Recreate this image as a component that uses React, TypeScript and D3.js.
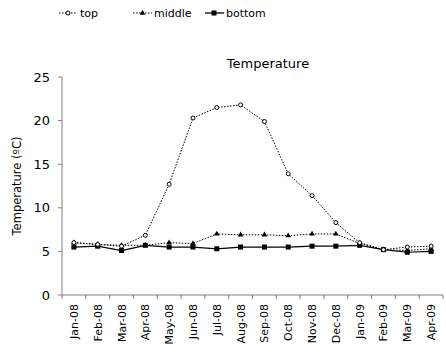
import React from "react";
import * as d3 from "d3";

const months = ["Jan-08","Feb-08","Mar-08","Apr-08","May-08","Jun-08","Jul-08","Aug-08","Sep-08","Oct-08","Nov-08","Dec-08","Jan-09","Feb-09","Mar-09","Apr-09"];
const topVals = [6.0,5.8,5.6,6.85,12.7,20.3,21.5,21.8,19.9,13.9,11.4,8.3,6.0,5.2,5.5,5.6];
const middleVals = [6.0,5.8,5.7,5.7,6.0,5.9,7.0,6.9,6.9,6.8,7.0,7.0,5.9,5.2,5.1,5.3];
const bottomVals = [5.5,5.6,5.1,5.7,5.5,5.5,5.3,5.5,5.5,5.5,5.6,5.6,5.7,5.2,4.9,5.0];
const yTicks = [0,5,10,15,20,25];

const FONT = "DejaVu Sans, Verdana, sans-serif";

export default function App() {
  const W = 446, H = 360;
  const x0 = 62, x1 = 443, yTop = 77, yBot = 295;
  const x = d3.scaleBand().domain(months).range([x0, x1]);
  const y = d3.scaleLinear().domain([0, 25]).range([yBot, yTop]);
  const cx = (m: string) => (x(m) as number) + x.bandwidth() / 2;
  const line = d3.line<number>().x((_, i) => cx(months[i])).y(d => y(d));
  const axisColor = "#808080";

  const boundaries = d3.range(months.length + 1).map(i => x0 + i * x.bandwidth());

  return (
    <svg width={W} height={H} style={{ position: "absolute", left: 0, top: 0 }} fontFamily={FONT}>
      <rect width={W} height={H} fill="#fff" />
      {/* legend */}
      <g fontSize={11} fill="#000">
        <line x1={59} x2={77} y1={13} y2={13} stroke="#000" strokeDasharray="1.5,1.5" />
        <circle cx={68} cy={13} r={2} fill="#fff" stroke="#000" strokeWidth={1} />
        <text x={80} y={17}>top</text>
        <line x1={133} x2={152} y1={13} y2={13} stroke="#000" strokeDasharray="1.5,1.5" />
        <path d={d3.symbol(d3.symbolTriangle, 14)() as string} transform="translate(142.5,13)" fill="#000" />
        <text x={154} y={17}>middle</text>
        <line x1={205} x2={224} y1={13} y2={13} stroke="#000" strokeWidth={1.3} />
        <rect x={211.5} y={10.5} width={5} height={5} fill="#000" />
        <text x={226} y={17}>bottom</text>
      </g>
      {/* title */}
      <text x={268} y={68} textAnchor="middle" fontSize={13}>Temperature</text>
      {/* y axis label */}
      <text transform="translate(21,186) rotate(-90)" textAnchor="middle" fontSize={11.5}>Temperature (ºC)</text>
      {/* axes */}
      <line x1={x0} x2={x0} y1={yTop} y2={yBot} stroke={axisColor} />
      <line x1={x0} x2={x1} y1={yBot} y2={yBot} stroke={axisColor} />
      {yTicks.map(t => (
        <g key={t}>
          <line x1={x0 - 4} x2={x0} y1={y(t)} y2={y(t)} stroke={axisColor} />
          <text x={50} y={y(t) + 4.5} textAnchor="end" fontSize={13}>{t}</text>
        </g>
      ))}
      {boundaries.map((b, i) => (
        <line key={i} x1={b} x2={b} y1={yBot} y2={yBot + 4} stroke={axisColor} />
      ))}
      {months.map(m => (
        <text key={m} transform={`translate(${cx(m) + 4},${yBot + 9}) rotate(-90)`} textAnchor="end" fontSize={11}>{m}</text>
      ))}
      {/* series */}
      <path d={line(bottomVals) as string} fill="none" stroke="#000" strokeWidth={1.2} />
      {bottomVals.map((v, i) => (
        <rect key={i} x={cx(months[i]) - 2.5} y={y(v) - 2.5} width={5} height={5} fill="#000" />
      ))}
      <path d={line(middleVals) as string} fill="none" stroke="#000" strokeWidth={1} strokeDasharray="1.5,1.5" />
      {middleVals.map((v, i) => (
        <path key={i} d={d3.symbol(d3.symbolTriangle, 14)() as string} transform={`translate(${cx(months[i])},${y(v)})`} fill="#000" />
      ))}
      <path d={line(topVals) as string} fill="none" stroke="#000" strokeWidth={1} strokeDasharray="1.5,1.5" />
      {topVals.map((v, i) => (
        <circle key={i} cx={cx(months[i])} cy={y(v)} r={2} fill="#fff" stroke="#000" strokeWidth={1} />
      ))}
    </svg>
  );
}
